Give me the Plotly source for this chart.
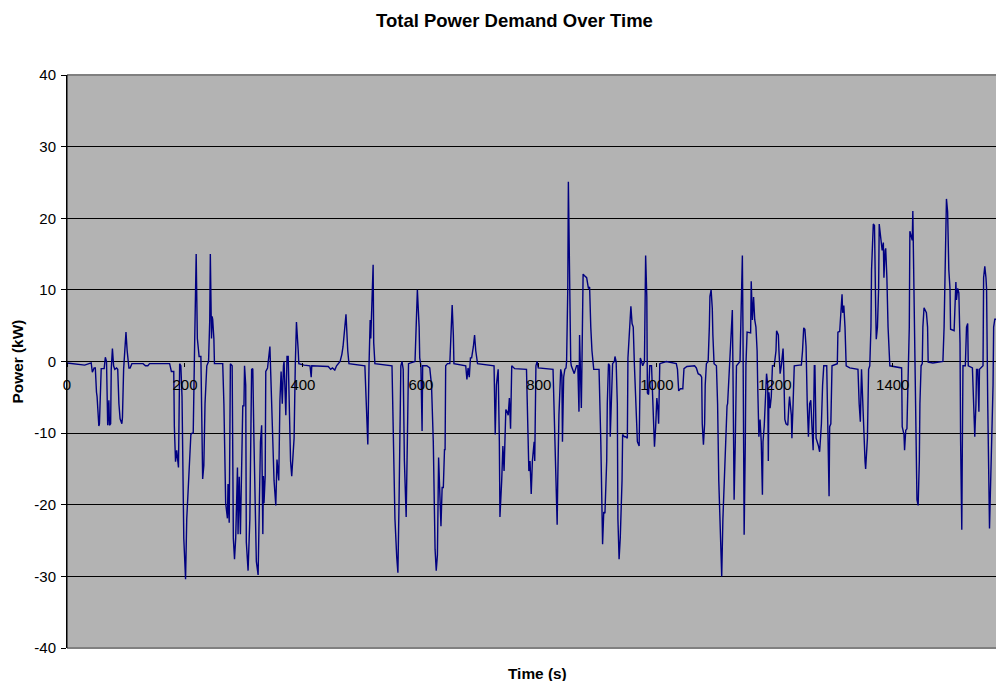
import plotly.graph_objects as go

# Time (s) and total power demand (kW)
time_s = [
    0, 30, 41, 43, 46, 48, 50, 51, 54, 55, 58, 63, 65, 67, 69, 71, 72, 74, 75, 77,
    79, 81, 84, 86, 88, 90, 93, 94, 96, 98, 100, 102, 105, 107, 110, 129, 133, 137, 140, 174,
    177, 181, 182, 184, 186, 189, 190, 191, 193, 195, 198, 200, 201, 203, 207, 210, 212, 214, 216, 218,
    219, 221, 224, 227, 228, 230, 232, 234, 237, 240, 242, 243, 245, 246, 247, 249, 250, 264, 266, 269,
    272, 273, 275, 277, 280, 282, 284, 286, 289, 290, 292, 294, 296, 298, 300, 301, 303, 304, 307, 310,
    313, 315, 317, 320, 321, 324, 326, 328, 330, 332, 333, 334, 336, 337, 340, 341, 344, 345, 347, 351,
    354, 356, 359, 361, 363, 365, 367, 368, 371, 373, 375, 377, 379, 381, 384, 385, 387, 389, 392, 393,
    402, 412, 414, 415, 443, 447, 450, 454, 457, 463, 466, 468, 471, 473, 476, 478, 505, 508, 510, 512,
    514, 515, 517, 519, 520, 522, 551, 553, 556, 559, 561, 563, 566, 568, 570, 572, 575, 577, 579, 590,
    592, 594, 597, 598, 600, 602, 603, 610, 615, 618, 621, 624, 626, 628, 630, 632, 634, 636, 638, 640,
    641, 642, 645, 649, 651, 653, 655, 656, 676, 678, 680, 682, 684, 686, 689, 691, 693, 696, 724, 726,
    728, 731, 733, 734, 737, 739, 741, 742, 744, 746, 748, 750, 752, 754, 759, 779, 780, 783, 785, 787,
    789, 792, 793, 795, 797, 799, 824, 827, 829, 831, 832, 834, 837, 839, 840, 842, 844, 846, 847, 849,
    850, 852, 854, 855, 858, 860, 862, 864, 866, 868, 869, 870, 872, 873, 875, 877, 881, 884, 886, 888,
    890, 893, 902, 905, 907, 908, 910, 912, 915, 916, 918, 920, 921, 923, 925, 928, 929, 931, 933, 934,
    936, 938, 941, 942, 945, 947, 950, 951, 954, 956, 958, 960, 962, 965, 967, 970, 972, 974, 976, 979,
    981, 983, 984, 986, 988, 991, 994, 996, 998, 1000, 1002, 1003, 1005, 1016, 1033, 1035, 1037, 1040, 1044, 1046,
    1051, 1060, 1064, 1067, 1070, 1074, 1076, 1077, 1079, 1081, 1082, 1084, 1087, 1089, 1090, 1092, 1094, 1095, 1097, 1101,
    1103, 1105, 1108, 1110, 1112, 1115, 1116, 1119, 1120, 1123, 1125, 1128, 1129, 1131, 1133, 1135, 1138, 1141, 1143, 1145,
    1146, 1148, 1150, 1151, 1153, 1159, 1160, 1162, 1164, 1166, 1168, 1170, 1171, 1173, 1175, 1177, 1179, 1180, 1182, 1184,
    1186, 1188, 1189, 1190, 1192, 1194, 1196, 1199, 1202, 1203, 1206, 1207, 1209, 1211, 1214, 1215, 1217, 1219, 1222, 1224,
    1225, 1228, 1229, 1231, 1233, 1242, 1245, 1247, 1249, 1251, 1253, 1255, 1257, 1259, 1261, 1263, 1265, 1267, 1268, 1270,
    1272, 1274, 1276, 1279, 1281, 1283, 1288, 1290, 1292, 1293, 1295, 1297, 1306, 1307, 1310, 1312, 1314, 1315, 1317, 1319,
    1321, 1327, 1341, 1343, 1345, 1347, 1350, 1353, 1354, 1357, 1359, 1361, 1363, 1364, 1367, 1369, 1371, 1372, 1374, 1376,
    1377, 1380, 1382, 1384, 1385, 1387, 1388, 1390, 1392, 1395, 1415, 1416, 1419, 1420, 1422, 1424, 1426, 1428, 1429, 1431,
    1433, 1434, 1436, 1438, 1440, 1441, 1443, 1445, 1446, 1448, 1450, 1451, 1453, 1457, 1459, 1460, 1468, 1485, 1487, 1489,
    1491, 1493, 1495, 1497, 1498, 1504, 1506, 1507, 1508, 1510, 1512, 1514, 1515, 1517, 1518, 1519, 1523, 1525, 1527, 1528,
    1535, 1537, 1539, 1541, 1542, 1544, 1546, 1547, 1553, 1554, 1556, 1558, 1559, 1561, 1563, 1564, 1566, 1568, 1570, 1571,
    1573, 1575,
]

power_kw = [
    -0.2, -0.5, -0.2, -1.5, -0.9, -0.9, -4.3, -4.9, -9.0, -8.7, -1.0, -1.0, 0.6, 0.0, -8.9, -5.4, -8.9, -8.7, -1.1, 1.8,
    -0.6, -1.1, -0.9, -1.1, -5.9, -8.0, -8.7, -7.8, -1.1, 1.5, 4.1, 1.5, -0.9, -0.9, -0.3, -0.3, -0.6, -0.6, -0.3, -0.3,
    -1.4, -1.4, -9.1, -14.0, -12.4, -14.8, -4.4, -0.3, -0.6, -4.9, -24.7, -29.0, -30.4, -22.0, -14.5, -10.2, -10.0, -10.0, 0.5, 13.9,
    15.0, 3.2, 0.7, 0.7, -3.8, -16.4, -14.5, -5.9, -0.6, 0.0, 5.8, 15.0, 3.2, 6.3, 5.9, 3.2, -0.3, -0.3, -5.9, -19.8,
    -21.9, -17.1, -22.5, -0.3, -0.6, -24.7, -27.6, -24.7, -14.8, -24.1, -16.1, -24.1, -11.2, -6.2, -6.2, -0.6, -3.3, -25.2, -29.2, -22.0,
    -1.1, -1.0, -11.2, -27.6, -27.9, -29.8, -22.0, -11.2, -8.9, -24.1, -16.0, -19.8, -16.0, -1.4, -0.9, 0.0, 2.1, -0.6, -5.9, -16.6,
    -20.1, -13.7, -16.6, -5.4, -1.4, -5.9, -0.6, 0.0, -7.5, 0.7, 0.7, -5.9, -13.9, -16.0, -11.2, -10.7, -0.6, 5.5, 1.5, -0.3,
    -0.5, -0.6, -2.2, -0.6, -0.7, -1.1, -0.9, -1.2, -0.6, 0.0, 1.0, 2.1, 4.8, 6.6, 1.5, -0.3, -0.6, -5.9, -11.6, -0.6,
    5.8, 3.2, 7.5, 13.5, 2.6, -0.3, -0.6, -8.7, -22.0, -27.3, -29.5, -19.3, -0.6, 0.0, -1.1, -13.9, -21.7, -11.2, -0.3, 0.0,
    4.8, 10.0, 4.8, 0.5, -0.6, -9.7, -0.6, -0.6, -0.9, -3.3, -11.2, -26.2, -29.2, -27.0, -13.4, -19.3, -23.0, -17.6, -17.6, -12.3,
    -12.3, -0.6, -0.3, -0.3, 3.7, 7.9, 3.7, -0.3, -0.6, -2.5, -0.9, -2.2, 0.5, 0.5, 2.1, 3.7, 1.5, -0.3, -0.6, -10.2,
    -3.3, -1.1, -11.2, -21.7, -16.6, -11.8, -15.3, -11.8, -6.7, -7.0, -7.5, -5.1, -9.4, -0.6, -1.0, -1.1, -5.9, -15.3, -13.9, -18.5,
    -13.9, -11.2, -13.9, -0.6, 0.0, -0.9, -1.1, -11.2, -19.3, -22.8, -16.6, -7.5, -1.1, -1.9, -11.2, -2.2, -1.1, -0.9, 0.0, 10.2,
    25.1, 10.2, 0.0, -0.6, -1.4, -1.7, -1.1, -0.6, -0.6, -7.0, 3.7, -0.6, -6.5, -0.6, 12.2, 12.0, 11.7, 10.2, 10.4, 4.8,
    1.5, -1.1, -1.1, -11.2, -22.0, -25.5, -21.0, -21.2, -13.9, -5.9, -0.3, -0.6, -10.5, -5.9, -0.3, 0.0, 0.7, 0.0, -5.9, -22.0,
    -27.6, -24.6, -16.6, -10.2, -10.5, -10.5, -10.7, 0.5, 4.8, 7.7, 5.3, 4.8, -0.6, -8.6, -11.2, -11.8, 0.5, 0.0, -0.6, 0.0,
    14.8, 9.0, -4.4, -4.6, -0.6, -0.6, -8.7, -11.9, -9.1, -5.1, -6.9, -8.7, -0.3, 0.0, -0.3, -1.1, -4.1, -3.8, -3.8, -1.0,
    -0.7, -0.6, -0.6, -0.9, -1.7, -1.9, -2.2, -8.7, -11.6, -8.7, -3.3, -0.3, 0.0, 4.8, 9.1, 10.0, 7.4, 3.7, -0.3, -0.6,
    -5.9, -16.6, -27.3, -30.0, -22.0, -14.0, -13.7, -6.2, -5.9, -0.6, 1.5, 7.2, -0.6, -19.3, -11.2, -0.6, -0.3, 0.0, 7.5, 14.8,
    4.8, -24.2, -11.2, -0.6, 4.1, 4.0, 11.2, 5.8, 9.0, 5.8, 4.8, 1.5, -3.3, -10.5, -8.1, -11.2, -18.6, -11.2, -9.1, -5.9,
    -1.7, -3.3, -13.9, -4.3, -6.5, -4.9, -0.6, -0.6, 1.5, 4.3, 3.7, 1.5, -1.7, -0.6, 1.8, -0.6, -8.1, -8.7, -8.9, -5.9,
    -4.9, -7.5, -10.7, -5.9, -0.6, -0.5, -0.5, 1.5, 4.7, 4.5, 2.1, -5.9, -10.5, -5.9, -5.4, -9.1, -12.4, -0.6, -0.6, -10.7,
    -11.2, -11.8, -12.6, -8.7, -3.3, -0.6, -0.6, -8.1, -18.8, -9.1, -8.7, -0.6, -0.3, 4.1, 4.2, 6.8, 9.4, 6.8, 7.8, 4.8,
    -0.6, -0.9, -1.1, -5.9, -8.4, -1.1, -8.7, -14.0, -15.0, -10.7, -1.1, -0.6, 4.8, 12.8, 19.2, 19.0, 7.5, 3.1, 4.8, 10.2,
    19.2, 17.1, 15.5, 16.6, 11.7, 15.5, 15.8, 11.7, 4.8, -0.6, -0.9, -9.1, -10.2, -12.4, -9.6, -9.4, -0.6, 4.8, 18.2, 17.4,
    16.9, 21.0, 10.2, -5.9, -13.9, -19.3, -20.1, -13.9, -5.9, -0.6, -0.3, 4.8, 7.5, 6.8, 4.8, -0.1, -0.2, 0.0, 4.8, 15.5,
    22.7, 20.9, 12.8, 10.2, 4.5, 4.3, 7.5, 11.1, 8.6, 10.2, 9.6, 2.6, -11.2, -23.5, -11.2, -0.6, -0.6, 4.8, 5.3, -0.6,
    -0.9, -5.9, -10.5, -5.9, -1.1, -1.1, -7.0, -1.1, -0.6, 11.7, 13.3, 11.7, 10.2, -5.9, -16.6, -23.3, -16.6, -11.2, -3.3, 4.8,
    5.9, 5.9,
]

y_ticks = [-40, -30, -20, -10, 0, 10, 20, 30, 40]
x_ticks = [0, 200, 400, 600, 800, 1000, 1200, 1400]

FONT = "Arial, 'Liberation Sans', sans-serif"

fig = go.Figure()
fig.add_trace(go.Scatter(
    x=time_s, y=power_kw, mode="lines",
    line=dict(color="#000080", width=1.4),
    showlegend=False, hoverinfo="skip",
))

fig.update_layout(
    width=996, height=681,
    margin=dict(l=67, r=0, t=75, b=33, pad=0),
    paper_bgcolor="white",
    plot_bgcolor="#B3B3B3",
    font=dict(family=FONT, size=15, color="black"),
    xaxis=dict(
        range=[0, 1575],
        tickvals=x_ticks,
        ticktext=[str(v) for v in x_ticks],
        anchor="free", position=0.5,
        showline=False,
        ticks="outside", ticklen=4, tickcolor="black",
        ticklabelstandoff=5,
        showgrid=False, zeroline=False, automargin=False,
        tickfont=dict(family=FONT, size=15, color="black"),
    ),
    yaxis=dict(
        range=[-40, 40],
        tickvals=y_ticks,
        ticktext=[str(v) for v in y_ticks],
        domain=[0, 1],
        showline=True, linecolor="black", linewidth=1,
        ticks="outside", ticklen=5, tickcolor="black",
        ticklabelstandoff=2,
        showgrid=True, gridcolor="black", gridwidth=1,
        zeroline=False, automargin=False,
        tickfont=dict(family=FONT, size=15, color="black"),
    ),
    shapes=[
        dict(type="line", xref="paper", yref="paper", x0=0, x1=1, y0=1, y1=1,
             line=dict(color="#808080", width=2), layer="above"),
        dict(type="line", xref="paper", yref="paper", x0=0, x1=1, y0=0, y1=0,
             line=dict(color="#808080", width=2), layer="above"),
        dict(type="line", xref="paper", yref="paper", x0=0, x1=0, y0=0, y1=1,
             line=dict(color="black", width=1), layer="above"),
    ],
    annotations=[
        dict(text="<b>Total Power Demand Over Time</b>", xref="paper", yref="paper",
             x=(514 - 67) / 929, y=1, yshift=55, showarrow=False,
             xanchor="center", yanchor="middle", font=dict(family=FONT, size=18.5, color="black")),
        dict(text="<b>Time (s)</b>", xref="paper", yref="paper",
             x=(537 - 67) / 929, y=0, yshift=-25, showarrow=False,
             xanchor="center", yanchor="middle", font=dict(family=FONT, size=15.4, color="black")),
        dict(text="<b>Power (kW)</b>", xref="paper", yref="paper",
             x=0, xshift=-50, y=0.5, textangle=-90, showarrow=False,
             xanchor="center", yanchor="middle", font=dict(family=FONT, size=15.4, color="black")),
    ],
)

fig.write_html(
    "out.html",
    config={"displayModeBar": False},
    post_script="document.body.style.margin='0';document.body.style.padding='0';",
)
